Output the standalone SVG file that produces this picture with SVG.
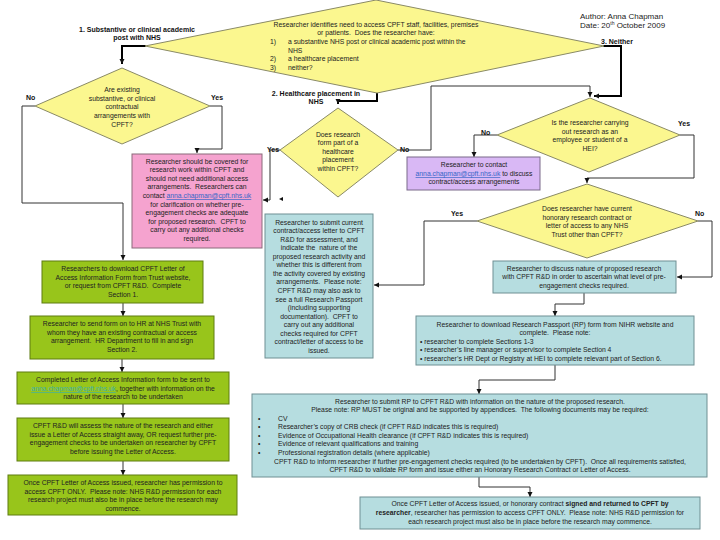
<svg xmlns="http://www.w3.org/2000/svg" width="720" height="540" viewBox="0 0 720 540">
<defs>
<marker id="ah" markerWidth="6" markerHeight="6" refX="5" refY="3" orient="auto" markerUnits="userSpaceOnUse"><path d="M0,0.5 L5,3 L0,5.5 Z" fill="#111"/></marker>
<style>
text{font-family:"Liberation Sans",Arial,sans-serif;font-size:6.8px;fill:#222;white-space:pre}
.c{text-anchor:middle}
.lbl{font-weight:bold;font-size:7px;fill:#111}
.dia{fill:#fbf78f;stroke:#8a8a66;stroke-width:1}
.grn{fill:#98c51b;stroke:#5e7d10;stroke-width:1}
.blu{fill:#b6dde0;stroke:#6f8f93;stroke-width:1}
.pnk{fill:#f5a3cf;stroke:#8a6a7a;stroke-width:1}
.pur{fill:#d9b8f5;stroke:#7a6a8a;stroke-width:1}
.ln{fill:none;stroke:#333;stroke-width:1}
.thk{fill:none;stroke:#000;stroke-width:2}
.lnk{fill:#3465c8;text-decoration:underline}
.lnkg{fill:#3fb0a8;text-decoration:underline}
.b{font-weight:bold}
</style>
</defs>
<rect width="720" height="540" fill="#fff"/>

<g id="connectors">
<path class="thk" d="M146,46 H122 V64" marker-end="url(#ah)"/>
<path class="thk" d="M377,93 V101 H338 V104" marker-end="url(#ah)"/>
<path class="thk" d="M603,46 H621 V96 H594" marker-end="url(#ah)"/>
<path class="ln" d="M35,106 H22 V203 H123 V260" marker-end="url(#ah)"/>
<path class="ln" d="M210,106 H222 V149 H197 V153" marker-end="url(#ah)"/>
<path class="ln" d="M280,150 H270 V200 H263" marker-end="url(#ah)"/>
<path d="M279,199 L283,197 L283,201 Z" fill="#111"/>
<path class="ln" d="M398,150 H431 V86 H590 V97" marker-end="url(#ah)"/>
<path class="ln" d="M497,135 H474 V157" marker-end="url(#ah)"/>
<path class="ln" d="M680,135 H694 V178 H587 V183" marker-end="url(#ah)"/>
<path class="ln" d="M477,221 H424 V285 H374" marker-end="url(#ah)"/>
<path class="ln" d="M698,221 H712 V277 H677" marker-end="url(#ah)"/>
<path class="ln" d="M123,303 V316" marker-end="url(#ah)"/>
<path class="ln" d="M122,359 V372" marker-end="url(#ah)"/>
<path class="ln" d="M123,404 V418" marker-end="url(#ah)"/>
<path class="ln" d="M123,461 V475" marker-end="url(#ah)"/>
<path class="ln" d="M584,293 V304 H555 V316" marker-end="url(#ah)"/>
<path class="ln" d="M555,365 V380 H479 V394" marker-end="url(#ah)"/>
<path class="ln" d="M479,477 V487 H530 V497" marker-end="url(#ah)"/>
</g>

<g id="labels">
<text class="lbl c" x="137" y="32">1. Substantive or clinical academic</text>
<text class="lbl c" x="137" y="40">post with NHS</text>
<text class="lbl c" x="316" y="96">2. Healthcare placement in</text>
<text class="lbl c" x="316" y="104">NHS</text>
<text class="lbl" x="601" y="44">3. Neither</text>
<text class="lbl" x="26" y="100">No</text>
<text class="lbl" x="211" y="100">Yes</text>
<text class="lbl" x="267" y="152">Yes</text>
<text class="lbl" x="400" y="152">No</text>
<text class="lbl" x="481" y="135">No</text>
<text class="lbl" x="678" y="126">Yes</text>
<text class="lbl" x="451" y="216">Yes</text>
<text class="lbl" x="695" y="216">No</text>
<text x="580" y="19" style="font-size:8px">Author: Anna Chapman</text>
<text x="580" y="28" style="font-size:8px">Date: 20<tspan style="font-size:5px" dy="-3">th</tspan><tspan dy="3"> October 2009</tspan></text>
</g>

<g id="start">
<polygon class="dia" points="376,0 604,46 377,93 145,46"/>
<text class="c" x="376" y="27">Researcher identifies need to access CPFT staff, facilities, premises</text>
<text class="c" x="376" y="35">or patients.  Does the researcher have:</text>
<text x="270" y="44">1)</text><text x="288" y="44">a substantive NHS post or clinical academic post within the</text>
<text x="288" y="53">NHS</text>
<text x="270" y="61">2)</text><text x="288" y="61">a healthcare placement</text>
<text x="270" y="70">3)</text><text x="288" y="70">neither?</text>
</g>

<g id="existing">
<polygon class="dia" points="122,68 210,106 122,144 35,106"/>
<text class="c" x="122" y="92">Are existing</text>
<text class="c" x="122" y="101">substantive, or clinical</text>
<text class="c" x="122" y="109">contractual</text>
<text class="c" x="122" y="118">arrangements with</text>
<text class="c" x="122" y="127">CPFT?</text>
</g>

<g id="covered">
<rect class="pnk" x="132" y="154" width="130" height="94"/>
<text class="c" x="197" y="164">Researcher should be covered for</text>
<text class="c" x="197" y="172">research work within CPFT and</text>
<text class="c" x="197" y="181">should not need additional access</text>
<text class="c" x="197" y="189">arrangements.  Researchers can</text>
<text class="c" x="197" y="198">contact <tspan class="lnk">anna.chapman@cpft.nhs.uk</tspan></text>
<text class="c" x="197" y="207">for clarification on whether pre-</text>
<text class="c" x="197" y="215">engagement checks are adequate</text>
<text class="c" x="197" y="224">for proposed research.  CPFT to</text>
<text class="c" x="197" y="232">carry out any additional checks</text>
<text class="c" x="197" y="241">required.</text>
</g>

<g id="placement">
<polygon class="dia" points="338,108 398,150 338,197 280,150"/>
<text class="c" x="338" y="137">Does research</text>
<text class="c" x="338" y="145">form part of a</text>
<text class="c" x="338" y="154">healthcare</text>
<text class="c" x="338" y="162">placement</text>
<text class="c" x="338" y="171">within CPFT?</text>
</g>

<g id="hei">
<polygon class="dia" points="590,98 680,135 589,172 497,135"/>
<text class="c" x="590" y="125">Is the researcher carrying</text>
<text class="c" x="590" y="134">out research as an</text>
<text class="c" x="590" y="142">employee or student of a</text>
<text class="c" x="590" y="151">HEI?</text>
</g>

<g id="contact">
<rect class="pur" x="407" y="157" width="133" height="33"/>
<text class="c" x="474" y="167">Researcher to contact</text>
<text class="c" x="474" y="176"><tspan class="lnk">anna.chapman@cpft.nhs.uk</tspan> to discuss</text>
<text class="c" x="474" y="184">contract/access arrangements</text>
</g>

<g id="honorary">
<polygon class="dia" points="587,184 698,221 587,258 477,221"/>
<text class="c" x="587" y="211">Does researcher have current</text>
<text class="c" x="587" y="220">honorary research contract or</text>
<text class="c" x="587" y="228">letter of access to any NHS</text>
<text class="c" x="587" y="237">Trust other than CPFT?</text>
</g>

<g id="submitcurrent">
<rect class="blu" x="265" y="214" width="108" height="144"/>
<text class="c" x="319" y="225">Researcher to submit current</text>
<text class="c" x="319" y="233">contract/access letter to CPFT</text>
<text class="c" x="319" y="242">R&amp;D for assessment, and</text>
<text class="c" x="319" y="250">indicate the  nature of the</text>
<text class="c" x="319" y="259">proposed research activity and</text>
<text class="c" x="319" y="267">whether this is different from</text>
<text class="c" x="319" y="276">the activity covered by existing</text>
<text class="c" x="319" y="284">arrangements.  Please note:</text>
<text class="c" x="319" y="293">CPFT R&amp;D may also ask to</text>
<text class="c" x="319" y="302">see a full Research Passport</text>
<text class="c" x="319" y="310">(including supporting</text>
<text class="c" x="319" y="319">documentation).  CPFT to</text>
<text class="c" x="319" y="327">carry out any additional</text>
<text class="c" x="319" y="336">checks required for CPFT</text>
<text class="c" x="319" y="344">contract/letter of access to be</text>
<text class="c" x="319" y="353">issued.</text>
</g>

<g id="discuss">
<rect class="blu" x="493" y="261" width="183" height="32"/>
<text class="c" x="584" y="271">Researcher to discuss nature of proposed research</text>
<text class="c" x="584" y="279">with CPFT R&amp;D in order to ascertain what level of pre-</text>
<text class="c" x="584" y="288">engagement checks required.</text>
</g>

<g id="passport">
<rect class="blu" x="416" y="316" width="278" height="49"/>
<text class="c" x="555" y="327">Researcher to download Research Passport (RP) form from NIHR website and</text>
<text class="c" x="555" y="335">complete.  Please note:</text>
<text x="420" y="344">• researcher to complete Sections 1-3</text>
<text x="420" y="352">• researcher’s line manager or supervisor to complete Section 4</text>
<text x="420" y="361">• researcher’s HR Dept or Registry at HEI to complete relevant part of Section 6.</text>
</g>

<g id="submitrp">
<rect class="blu" x="252" y="394" width="455" height="83"/>
<text class="c" x="480" y="404">Researcher to submit RP to CPFT R&amp;D with information on the nature of the proposed research.</text>
<text class="c" x="480" y="412">Please note: RP MUST be original and be supported by appendices.  The following documents may be required:</text>
<text x="258" y="421">•</text><text x="278" y="421">CV</text>
<text x="258" y="429">•</text><text x="278" y="429">Researcher’s copy of CRB check (if CPFT R&amp;D indicates this is required)</text>
<text x="258" y="438">•</text><text x="278" y="438">Evidence of Occupational Health clearance (if CPFT R&amp;D indicates this is required)</text>
<text x="258" y="446">•</text><text x="278" y="446">Evidence of relevant qualifications and training</text>
<text x="258" y="455">•</text><text x="278" y="455">Professional registration details (where applicable)</text>
<text class="c" x="480" y="464">CPFT R&amp;D to inform researcher if further pre-engagement checks required (to be undertaken by CPFT).  Once all requirements satisfied,</text>
<text class="c" x="480" y="472">CPFT R&amp;D to validate RP form and issue either an Honorary Research Contract or Letter of Access.</text>
</g>

<g id="final">
<rect class="blu" x="360" y="497" width="340" height="32"/>
<text class="c" x="530" y="506">Once CPFT Letter of Access issued, or honorary contract <tspan class="b">signed and returned to CPFT by</tspan></text>
<text class="c" x="530" y="515"><tspan class="b">researcher</tspan>, researcher has permission to access CPFT ONLY.  Please note: NHS R&amp;D permission for</text>
<text class="c" x="530" y="524">each research project must also be in place before the research may commence.</text>
</g>

<g id="g1">
<rect class="grn" x="42" y="261" width="161" height="42"/>
<text class="c" x="123" y="271">Researchers to download CPFT Letter of</text>
<text class="c" x="123" y="280">Access Information Form from Trust website,</text>
<text class="c" x="123" y="288">or request from CPFT R&amp;D.  Complete</text>
<text class="c" x="123" y="297">Section 1.</text>
</g>
<g id="g2">
<rect class="grn" x="30" y="316" width="184" height="43"/>
<text class="c" x="122" y="326">Researcher to send form on to HR at NHS Trust with</text>
<text class="c" x="122" y="335">whom they have an existing contractual or access</text>
<text class="c" x="122" y="343">arrangement.  HR Department to fill in and sign</text>
<text class="c" x="122" y="352">Section 2.</text>
</g>
<g id="g3">
<rect class="grn" x="17" y="372" width="212" height="32"/>
<text class="c" x="123" y="382">Completed Letter of Access Information form to be sent to</text>
<text class="c" x="123" y="391"><tspan class="lnkg">anna.chapman@cpft.nhs.uk</tspan>, together with information on the</text>
<text class="c" x="123" y="399">nature of the research to be undertaken</text>
</g>
<g id="g4">
<rect class="grn" x="17" y="418" width="212" height="43"/>
<text class="c" x="123" y="428">CPFT R&amp;D will assess the nature of the research and either</text>
<text class="c" x="123" y="437">issue a Letter of Access straight away, OR request further pre-</text>
<text class="c" x="123" y="445">engagement checks to be undertaken on researcher by CPFT</text>
<text class="c" x="123" y="454">before issuing the Letter of Access.</text>
</g>
<g id="g5">
<rect class="grn" x="8" y="475" width="229" height="40"/>
<text class="c" x="123" y="485">Once CPFT Letter of Access issued, researcher has permission to</text>
<text class="c" x="123" y="494">access CPFT ONLY.  Please note: NHS R&amp;D permission for each</text>
<text class="c" x="123" y="502">research project must also be in place before the research may</text>
<text class="c" x="123" y="511">commence.</text>
</g>
</svg>
